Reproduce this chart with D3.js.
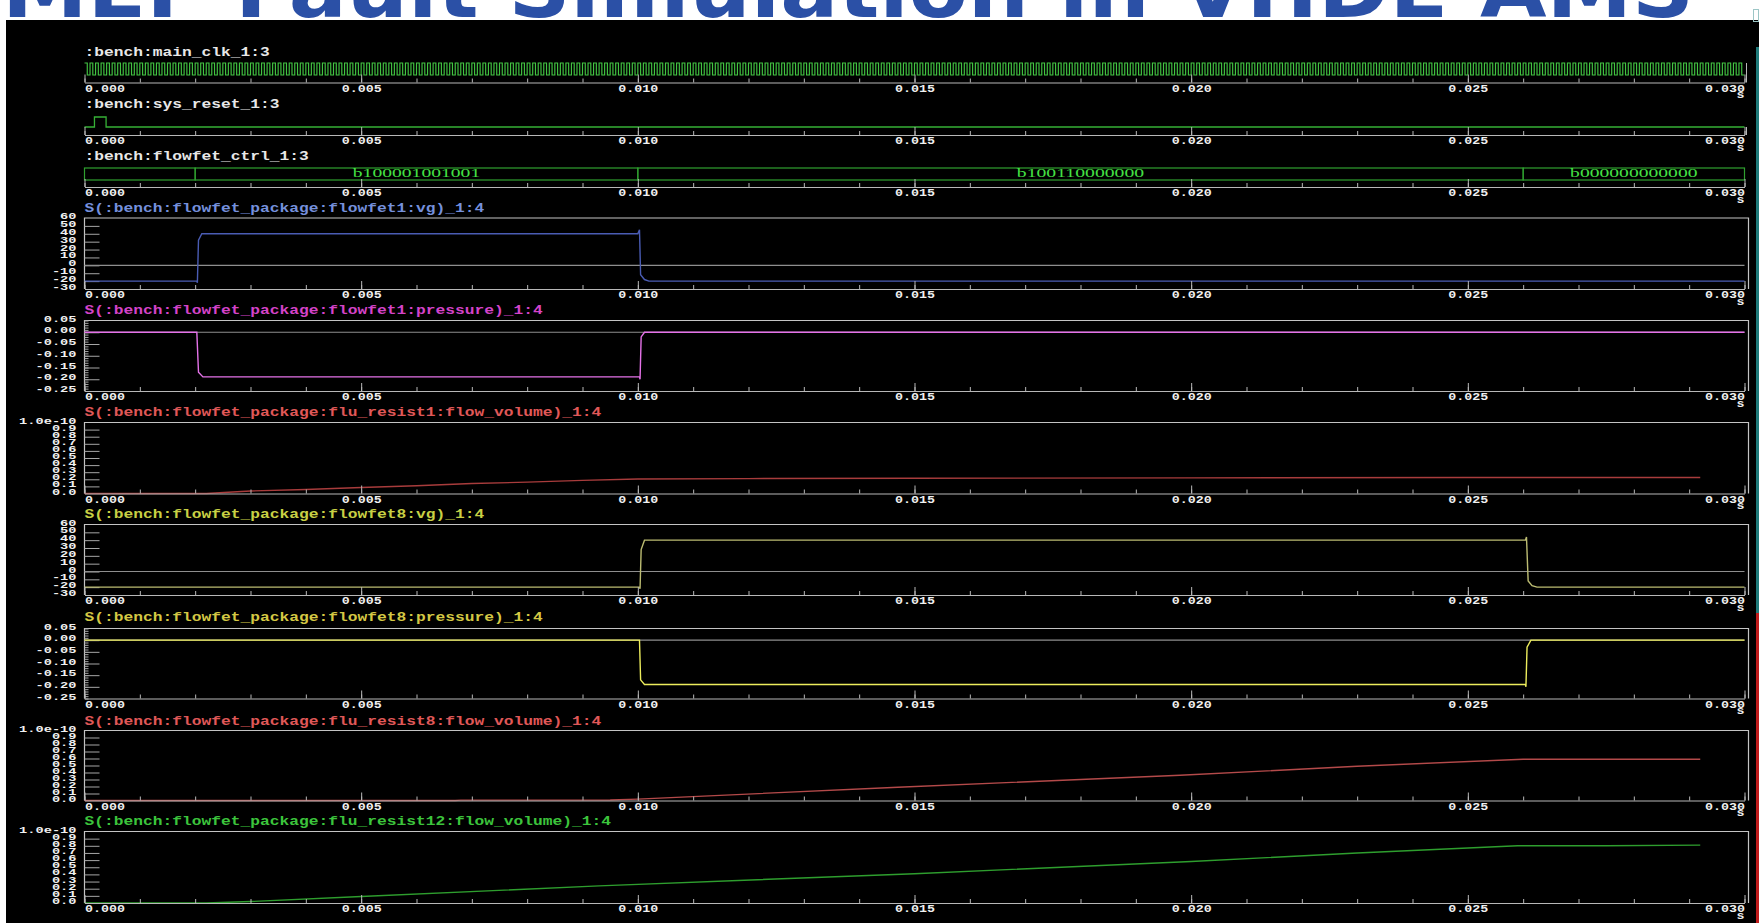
<!DOCTYPE html>
<html>
<head>
<meta charset="utf-8">
<script src="https://cdn.jsdelivr.net/npm/d3@7"></script>
<style>
  html, body { margin: 0; padding: 0; background: #fff; overflow: hidden; }
  svg { display: block; }
</style>
</head>
<body>
<svg id="chart" width="1759" height="923"></svg>
<script>
// ---------------- data ----------------
const slideTitle = "MEF Fault Simulation in VHDL-AMS";

// time axis (seconds)
const timeDomain = [0, 0.030];
const timeTicks = [0, 0.005, 0.010, 0.015, 0.020, 0.025, 0.030];
const timeTickLabels = ["0.000", "0.005", "0.010", "0.015", "0.020", "0.025", "0.030"];
const timeMinorStep = 0.001;
const timeUnit = "s";

// digital signals
const clkPeriod = 1e-4;
const resetTimes = [0, 0.00018, 0.00039, 0.030];
const resetLevels = [0, 1, 0, 0];
const ctrlTimes = [0, 0.002, 0.010, 0.026, 0.030];
const ctrlValues = ["b000000000000", "b100001001001", "b100110000000", "b000000000000"];

// analog signals: flowfet1
const vg1Times  = [0, 0.00203, 0.00204, 0.00206, 0.00212, 0.01000, 0.01003, 0.01005, 0.01012, 0.01020, 0.030];
const vg1Values = [-20, -20, -22, 32, 40, 40, 45, -12, -18, -20, -20];
const p1Times   = [0, 0.00203, 0.00206, 0.00214, 0.01003, 0.01004, 0.01006, 0.01012, 0.030];
const p1Values  = [0, 0, -0.17, -0.19, -0.19, -0.20, -0.02, 0, 0];
const flow1Times  = [0, 0.0022, 0.003, 0.004, 0.005, 0.006, 0.007, 0.008, 0.009, 0.010, 0.012, 0.015, 0.020, 0.025, 0.0292];
const flow1Values = [0, 0, 0.035e-10, 0.056e-10, 0.085e-10, 0.11e-10, 0.14e-10, 0.16e-10, 0.185e-10, 0.205e-10, 0.21e-10, 0.215e-10, 0.22e-10, 0.225e-10, 0.225e-10];

// analog signals: flowfet8
const vg8Times  = [0, 0.01003, 0.01004, 0.01006, 0.01012, 0.02604, 0.02606, 0.02609, 0.02616, 0.02625, 0.030];
const vg8Values = [-20, -20, -22, 28, 40, 40, 44, -12, -18, -20, -20];
const p8Times   = [0, 0.01003, 0.01005, 0.01012, 0.02604, 0.02605, 0.02607, 0.02614, 0.030];
const p8Values  = [0, 0, -0.17, -0.19, -0.19, -0.20, -0.03, 0, 0];
const flow8Times  = [0, 0.0067, 0.0068, 0.0095, 0.010, 0.0147, 0.0198, 0.0230, 0.0260, 0.0292];
const flow8Values = [0, 0, 0.005e-10, 0.008e-10, 0.02e-10, 0.19e-10, 0.36e-10, 0.49e-10, 0.59e-10, 0.59e-10];

// analog signals: flu_resist12
const flow12Times  = [0, 0.0022, 0.003, 0.005, 0.0093, 0.015, 0.020, 0.023, 0.0259, 0.0275, 0.0292];
const flow12Values = [0, 0, 0.02e-10, 0.09e-10, 0.24e-10, 0.41e-10, 0.58e-10, 0.70e-10, 0.80e-10, 0.80e-10, 0.81e-10];

// value axes
const vgDomain = [-30, 60];
const vgTicks = [60, 50, 40, 30, 20, 10, 0, -10, -20, -30];
const vgTickLabels = ["60", "50", "40", "30", "20", "10", "0", "-10", "-20", "-30"];
const pressureDomain = [-0.25, 0.05];
const pressureTicks = [0.05, 0, -0.05, -0.10, -0.15, -0.20, -0.25];
const pressureTickLabels = ["0.05", "0.00", "-0.05", "-0.10", "-0.15", "-0.20", "-0.25"];
const pressureMinorStep = 0.01;
const flowDomain = [0, 1e-10];
const flowTicks = [1e-10, 0.9e-10, 0.8e-10, 0.7e-10, 0.6e-10, 0.5e-10, 0.4e-10, 0.3e-10, 0.2e-10, 0.1e-10, 0];
const flowTickLabels = ["1.0e-10", "0.9", "0.8", "0.7", "0.6", "0.5", "0.4", "0.3", "0.2", "0.1", "0.0"];

// ---------------- drawing ----------------
const W = 1759, H = 923;
const MONO = "'Liberation Mono', 'DejaVu Sans Mono', monospace";
const svg = d3.select("#chart");
const x = d3.scaleLinear().domain(timeDomain).range([84.5, 1744.5]);
const xL = x.range()[0], xR = x.range()[1];
const frameRight = xR + 4;

const AXIS_COL = "#b8b8b8";
const FRAME_COL = "#c4c4c4";
const ZERO_COL = "#8e8e8e";
const LABEL_COL = "#f0f0f0";
const TIME_LABEL_SIZE = 10;
const VALUE_LABEL_SIZE = 9;

// slide backdrop and title strip
svg.append("rect").attr("width", W).attr("height", H).attr("fill", "#ffffff");
svg.append("text")
  .text(slideTitle)
  .attr("x", 2).attr("y", 17)
  .attr("font-family", "'DejaVu Sans', Verdana, sans-serif")
  .attr("font-weight", "bold")
  .attr("font-size", 80)
  .attr("fill", "#2b50a6")
  .attr("textLength", 1692)
  .attr("lengthAdjust", "spacingAndGlyphs");
svg.append("rect").attr("x", 6).attr("y", 20).attr("width", W - 6).attr("height", H - 20).attr("fill", "#000");

// side strip and corner box
svg.append("rect").attr("x", 1756).attr("y", 47).attr("width", 3).attr("height", 566).attr("fill", "#1f7a7a");
svg.append("rect").attr("x", 1756).attr("y", 613).attr("width", 3).attr("height", 310).attr("fill", "#c01c1c");
svg.append("rect").attr("x", 1753.5).attr("y", 9.5).attr("width", 5).attr("height", 12)
  .attr("fill", "none").attr("stroke", "#9cc6c6").attr("stroke-width", 1);

// stretched bitmap-like text
function addText(g, str, px, py, o) {
  return g.append("text")
    .text(str)
    .attr("x", px).attr("y", py)
    .attr("font-family", o.family || MONO)
    .attr("font-weight", o.weight || "bold")
    .attr("font-size", o.size)
    .attr("fill", o.fill)
    .attr("text-anchor", o.anchor || "start")
    .attr("textLength", str.length * o.cw)
    .attr("lengthAdjust", "spacingAndGlyphs");
}

function drawTitle(str, py, color) {
  addText(svg, str, xL, py, { size: 12.5, cw: 9.75, fill: color });
}

// time axis with minor and major ticks pointing up
function drawTimeAxis(axisY) {
  const minor = d3.range(0, timeDomain[1] + timeMinorStep / 2, timeMinorStep);
  svg.append("g")
    .attr("transform", `translate(0,${axisY})`)
    .call(d3.axisBottom(x).tickValues(minor).tickSize(-4).tickSizeOuter(0).tickFormat(""))
    .call(g => g.select(".domain").remove())
    .call(g => g.selectAll("line").attr("stroke", AXIS_COL));

  const g = svg.append("g")
    .attr("transform", `translate(0,${axisY})`)
    .call(d3.axisBottom(x).tickValues(timeTicks).tickSize(-8).tickSizeOuter(0)
      .tickFormat((d, i) => timeTickLabels[i]).tickPadding(3));
  g.select(".domain").attr("stroke", AXIS_COL).attr("stroke-width", 1.2);
  g.selectAll("line").attr("stroke", AXIS_COL);
  const n = timeTicks.length;
  g.selectAll("text")
    .attr("y", 9).attr("dy", null)
    .attr("fill", LABEL_COL)
    .attr("font-family", MONO).attr("font-weight", "bold").attr("font-size", TIME_LABEL_SIZE)
    .attr("textLength", (d, i) => timeTickLabels[i].length * 8)
    .attr("lengthAdjust", "spacingAndGlyphs")
    .attr("text-anchor", (d, i) => i === 0 ? "start" : (i === n - 1 ? "end" : "middle"));
  addText(svg, timeUnit, xR, axisY + 15.5, { size: TIME_LABEL_SIZE, cw: 8, fill: LABEL_COL, anchor: "end" });
}

// ---------- digital panels ----------
function drawClock(lay) {
  drawTitle(":bench:main_clk_1:3", lay.titleY, "#e8e8e8");
  const y = d3.scaleLinear().domain([0, 1]).range([lay.y0, lay.y1]);
  const edges = d3.range(0, timeDomain[1], clkPeriod / 2).map((t, i) => [t, i % 2 === 0 ? 1 : 0]);
  edges.push([timeDomain[1], 0]);
  svg.append("path")
    .attr("d", d3.line().x(d => x(d[0])).y(d => y(d[1])).curve(d3.curveStepAfter)(edges))
    .attr("fill", "none").attr("stroke", "#42c442").attr("stroke-width", 1.15);
  svg.append("line").attr("x1", xR + 2).attr("x2", xR + 2).attr("y1", lay.y1).attr("y2", lay.axisY)
    .attr("stroke", AXIS_COL);
  drawTimeAxis(lay.axisY);
}

function drawReset(lay) {
  drawTitle(":bench:sys_reset_1:3", lay.titleY, "#e8e8e8");
  const y = d3.scaleLinear().domain([0, 1]).range([lay.y0, lay.y1]);
  const pts = resetTimes.map((t, i) => [t, resetLevels[i]]);
  svg.append("path")
    .attr("d", d3.line().x(d => x(d[0])).y(d => y(d[1])).curve(d3.curveStepAfter)(pts))
    .attr("fill", "none").attr("stroke", "#36b036").attr("stroke-width", 1.3);
  svg.append("line").attr("x1", xR + 2).attr("x2", xR + 2).attr("y1", lay.y0).attr("y2", lay.axisY)
    .attr("stroke", AXIS_COL);
  drawTimeAxis(lay.axisY);
}

function drawBus(lay) {
  drawTitle(":bench:flowfet_ctrl_1:3", lay.titleY, "#e8e8e8");
  const segs = ctrlValues.map((v, i) => ({ t0: ctrlTimes[i], t1: ctrlTimes[i + 1], v }));
  const g = svg.append("g");
  g.selectAll("rect").data(segs).join("rect")
    .attr("x", d => x(d.t0)).attr("y", lay.y1)
    .attr("width", d => x(d.t1) - x(d.t0)).attr("height", lay.y0 - lay.y1)
    .attr("fill", "none").attr("stroke", "#2fa02f").attr("stroke-width", 1.2);
  const cw = 9.8;
  segs.forEach(d => {
    const w = x(d.t1) - x(d.t0);
    if (d.v.length * cw + 8 < w) {
      addText(g, d.v, (x(d.t0) + x(d.t1)) / 2, lay.y0 - 3,
        { size: 12, cw, fill: "#44e044", anchor: "middle", family: "'Liberation Serif', serif", weight: "normal" });
    }
  });
  drawTimeAxis(lay.axisY);
}

// ---------- analog panels ----------
function drawAnalog(lay, cfg) {
  drawTitle(cfg.title, lay.titleY, cfg.titleColor);
  const y = d3.scaleLinear().domain(cfg.domain).range([lay.axisY, lay.top]);

  // frame
  svg.append("path")
    .attr("d", `M${xL},${lay.axisY}V${lay.top}H${frameRight}V${lay.axisY}`)
    .attr("fill", "none").attr("stroke", FRAME_COL).attr("stroke-width", 1.2);

  // value ticks inside the frame
  if (cfg.minorStep) {
    const minor = d3.range(cfg.domain[0], cfg.domain[1] + cfg.minorStep / 2, cfg.minorStep);
    svg.append("g").attr("transform", `translate(${xL},0)`)
      .call(d3.axisRight(y).tickValues(minor).tickSize(4).tickFormat(""))
      .call(g => g.select(".domain").remove())
      .call(g => g.selectAll("line").attr("stroke", "#a6a6a6"));
  }
  const inner = cfg.ticks.slice(1, -1);
  svg.append("g").attr("transform", `translate(${xL},0)`)
    .call(d3.axisRight(y).tickValues(inner).tickSize(15).tickFormat(""))
    .call(g => g.select(".domain").remove())
    .call(g => g.selectAll("line").attr("stroke", "#a6a6a6"));

  // value labels on the left
  const gl = svg.append("g").attr("transform", `translate(${xL},0)`)
    .call(d3.axisLeft(y).tickValues(cfg.ticks).tickSize(0).tickPadding(8)
      .tickFormat((d, i) => cfg.labels[i]));
  gl.select(".domain").remove();
  gl.selectAll("text")
    .attr("dy", null).attr("y", 0.5)
    .attr("fill", LABEL_COL)
    .attr("font-family", MONO).attr("font-weight", "bold").attr("font-size", VALUE_LABEL_SIZE)
    .attr("textLength", (d, i) => cfg.labels[i].length * 8.2)
    .attr("lengthAdjust", "spacingAndGlyphs");

  // zero reference line
  if (cfg.domain[0] < 0) {
    svg.append("line")
      .attr("x1", xL).attr("x2", xR).attr("y1", y(0)).attr("y2", y(0))
      .attr("stroke", ZERO_COL).attr("stroke-width", 1.2);
  }

  // waveform
  const pts = cfg.times.map((t, i) => [t, cfg.values[i]]);
  svg.append("path")
    .attr("d", d3.line().x(d => x(d[0])).y(d => y(d[1]))(pts))
    .attr("fill", "none").attr("stroke", cfg.color).attr("stroke-width", 1.4);

  drawTimeAxis(lay.axisY);
}

const layout = {
  clk:   { titleY: 56,  y0: 75,  y1: 63,  axisY: 82.5 },
  reset: { titleY: 108, y0: 127, y1: 117, axisY: 135 },
  ctrl:  { titleY: 160, y0: 180, y1: 168, axisY: 187 },
  vg1:   { titleY: 212, top: 218,   axisY: 289 },
  p1:    { titleY: 314, top: 320.5, axisY: 391 },
  f1:    { titleY: 416, top: 422.5, axisY: 493.5 },
  vg8:   { titleY: 518, top: 524.5, axisY: 595 },
  p8:    { titleY: 621, top: 628.5, axisY: 698.5 },
  f8:    { titleY: 725, top: 730.5, axisY: 800.5 },
  f12:   { titleY: 825, top: 831.5, axisY: 903 }
};

drawClock(layout.clk);
drawReset(layout.reset);
drawBus(layout.ctrl);

drawAnalog(layout.vg1, {
  title: "S(:bench:flowfet_package:flowfet1:vg)_1:4", titleColor: "#7590dc",
  domain: vgDomain, ticks: vgTicks, labels: vgTickLabels,
  times: vg1Times, values: vg1Values, color: "#4a5cb4"
});
drawAnalog(layout.p1, {
  title: "S(:bench:flowfet_package:flowfet1:pressure)_1:4", titleColor: "#d443c8",
  domain: pressureDomain, ticks: pressureTicks, labels: pressureTickLabels, minorStep: pressureMinorStep,
  times: p1Times, values: p1Values, color: "#e472e8"
});
drawAnalog(layout.f1, {
  title: "S(:bench:flowfet_package:flu_resist1:flow_volume)_1:4", titleColor: "#e05858",
  domain: flowDomain, ticks: flowTicks, labels: flowTickLabels,
  times: flow1Times, values: flow1Values, color: "#a83c3c"
});
drawAnalog(layout.vg8, {
  title: "S(:bench:flowfet_package:flowfet8:vg)_1:4", titleColor: "#c8d044",
  domain: vgDomain, ticks: vgTicks, labels: vgTickLabels,
  times: vg8Times, values: vg8Values, color: "#bcbc72"
});
drawAnalog(layout.p8, {
  title: "S(:bench:flowfet_package:flowfet8:pressure)_1:4", titleColor: "#d4c844",
  domain: pressureDomain, ticks: pressureTicks, labels: pressureTickLabels, minorStep: pressureMinorStep,
  times: p8Times, values: p8Values, color: "#ecec5c"
});
drawAnalog(layout.f8, {
  title: "S(:bench:flowfet_package:flu_resist8:flow_volume)_1:4", titleColor: "#e05858",
  domain: flowDomain, ticks: flowTicks, labels: flowTickLabels,
  times: flow8Times, values: flow8Values, color: "#b44a4a"
});
drawAnalog(layout.f12, {
  title: "S(:bench:flowfet_package:flu_resist12:flow_volume)_1:4", titleColor: "#3cc43c",
  domain: flowDomain, ticks: flowTicks, labels: flowTickLabels,
  times: flow12Times, values: flow12Values, color: "#2e9e2e"
});
</script>
</body>
</html>
